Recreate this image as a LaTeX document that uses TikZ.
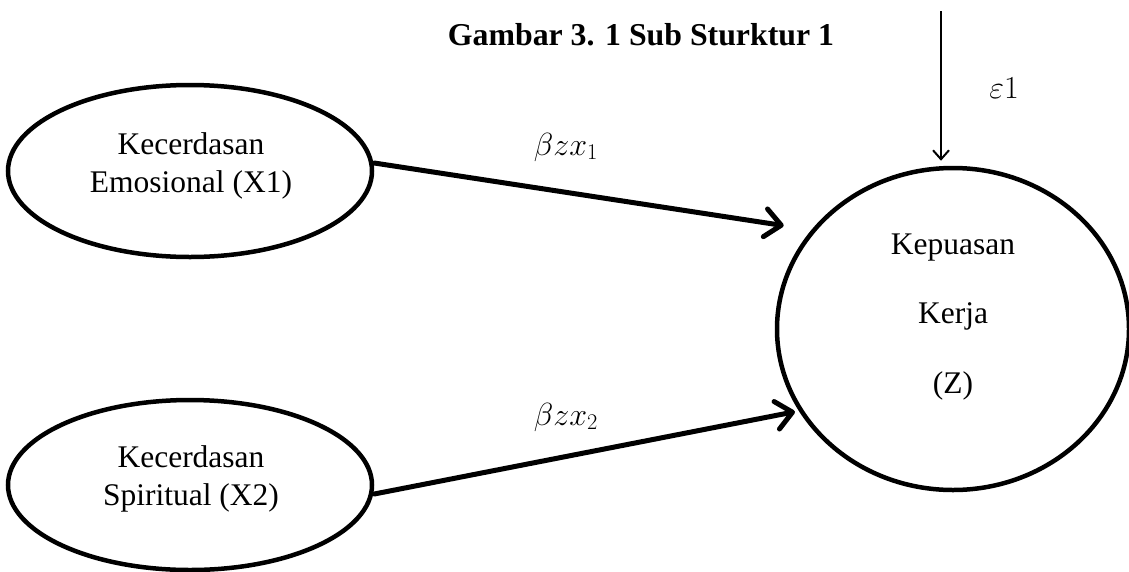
\RequirePackage{fix-cm}
\documentclass[tikz,border=0pt]{standalone}
\usepackage{fontspec}
\setmainfont{Liberation Serif}
\usetikzlibrary{shapes.geometric,arrows.meta}
\tikzset{
  latent/.style={draw, ellipse, line width=4.5pt, inner sep=0pt},
  lbl/.style={font=\fontsize{31.5}{38}\selectfont, align=center, inner sep=0pt},
  mlbl/.style={font=\fontsize{32}{38}\selectfont, inner sep=0pt},
  path/.style={line width=5pt, line cap=round, -{Straight Barb[length=16pt,width=28pt,round]}},
  err/.style={line width=2pt, -{Straight Barb[length=9pt,width=16pt]}}
}
\begin{document}
\begin{tikzpicture}[x=1pt,y=-1pt]
\useasboundingbox (0,0) rectangle (1129,571);
% title
\node[lbl, font=\fontsize{31.8}{38}\selectfont\bfseries] (title) at (641,35) {Gambar 3. 1 Sub Sturktur 1};
% latent variables
\node[latent, minimum width=364pt, minimum height=172pt] (e1) at (190,171) {};
\node[lbl] (t1) at (191,166) {Kecerdasan\\Emosional (X1)};
\node[latent, minimum width=364pt, minimum height=170pt] (e2) at (190,485) {};
\node[lbl] (t2) at (191,479) {Kecerdasan\\Spiritual (X2)};
\node[latent, minimum width=352pt, minimum height=322pt] (z) at (953,329) {};
\node[lbl, font=\fontsize{31.5}{69.5}\selectfont] (tz) at (953,317) {Kepuasan\\Kerja\\(Z)};
% error term
\coordinate (etop) at (941,11);
\draw[err, shorten >=5pt] (etop) -- (etop |- z.north);
\node[mlbl] (eps) at (1004,88) {$\varepsilon 1$};
% paths
\draw[path, shorten >=28pt] ([yshift=8pt]e1.east) -- (z.145);
\draw[path, shorten >=4pt] ([yshift=-9pt]e2.east) -- (z.208);
\node[mlbl] (b1) at (566,147) {$\beta z x_1$};
\node[mlbl] (b2) at (566,417) {$\beta z x_2$};
\end{tikzpicture}
\end{document}
